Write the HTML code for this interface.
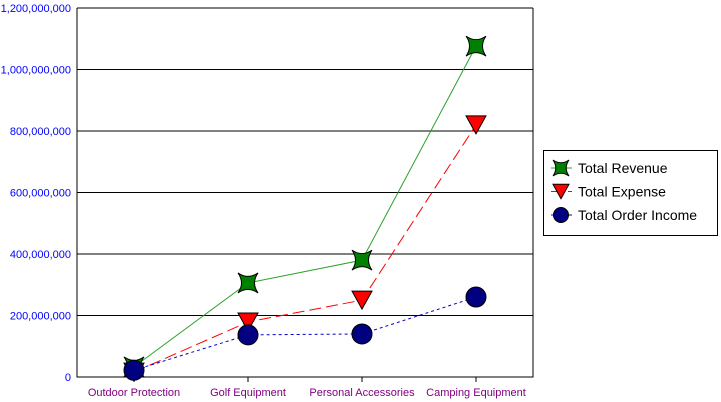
<!DOCTYPE html>
<html><head><meta charset="utf-8"><style>
body{margin:0;background:#fff;}
svg{display:block;font-family:"Liberation Sans",sans-serif;}
</style></head><body>
<svg id="chart" width="721" height="402"></svg>
<script>
const categories=["Outdoor Protection","Golf Equipment","Personal Accessories","Camping Equipment"];
const revenue=[33000000,306000000,380000000,1076000000];
const expense=[16000000,179000000,250000000,820000000];
const orderIncome=[22000000,137000000,140000000,260000000];
const yTicks=[0,200000000,400000000,600000000,800000000,1000000000,1200000000];
const yTickLabels=["0","200,000,000","400,000,000","600,000,000","800,000,000","1,000,000,000","1,200,000,000"];
const seriesNames=["Total Revenue","Total Expense","Total Order Income"];

const svg=document.getElementById('chart');
const NS='http://www.w3.org/2000/svg';
const L=77,R=533,T=8,B=377,yMax=1200000000;
const xs=i=>L+(R-L)*(i+0.5)/categories.length;
const ys=v=>B-(B-T)*v/yMax;
function mk(tag,attrs,parent){const e=document.createElementNS(NS,tag);for(const k in attrs)e.setAttribute(k,attrs[k]);(parent||svg).appendChild(e);return e;}

const grid=mk('g',{});


yTicks.forEach((t,i)=>{
  if(t>0){const l=mk('line',{x1:L,x2:R,y1:ys(t),y2:ys(t),stroke:'#000','stroke-width':1},grid);
  }
  const tx=mk('text',{x:71,y:ys(t)+4,'text-anchor':'end','font-size':11,fill:'#0000ff'});
  tx.textContent=yTickLabels[i];
  
});
const frame=mk('path',{d:`M${L} ${T}V${B}H${R}V${T}`,fill:'none',stroke:'#000','stroke-width':1});

categories.forEach((c,i)=>{
  const tk=mk('line',{x1:xs(i),x2:xs(i),y1:B,y2:B+5,stroke:'#000'});
  
  const tx=mk('text',{x:xs(i),y:396,'text-anchor':'middle','font-size':11,fill:'#800080'});
  tx.textContent=c;
  
});
function star(g,x,y,s){return mk('path',{d:`M${x-s} ${y-s}Q${x} ${y-s*0.3} ${x+s} ${y-s}Q${x+s*0.3} ${y} ${x+s} ${y+s}Q${x} ${y+s*0.3} ${x-s} ${y+s}Q${x-s*0.3} ${y} ${x-s} ${y-s}Z`,fill:'#008000',stroke:'#000','stroke-width':1},g);}
function tri(g,x,y,s){return mk('path',{d:`M${x-s} ${y-s*0.9}H${x+s}L${x} ${y+s*0.9}Z`,fill:'#ff0000',stroke:'#000','stroke-width':1},g);}
function circ(g,x,y,s){return mk('circle',{cx:x,cy:y,r:s,fill:'#000080',stroke:'#000','stroke-width':1},g);}
const series=[
 {vals:revenue,color:'#2ca02c',dash:'',m:star,name:'revenue'},
 {vals:expense,color:'#ff0000',dash:'12,5',m:tri,name:'expense'},
 {vals:orderIncome,color:'#0000cc',dash:'3,3',m:circ,name:'order-income'}];
series.forEach(s=>{
  const g=mk('g',{});
  
  const ln=mk('polyline',{points:s.vals.map((v,i)=>xs(i)+','+ys(v)).join(' '),fill:'none',stroke:s.color,'stroke-width':1,'stroke-dasharray':s.dash},g);
  
});
series.forEach(s=>{
  const g=mk('g',{});
  
  s.vals.forEach((v,i)=>{const p=s.m(g,xs(i),ys(v),s.m===circ?10:10);
    });
});
const lg=mk('g',{});

mk('rect',{x:543.5,y:150.5,width:174,height:85,fill:'#fff',stroke:'#000'},lg);
series.forEach((s,i)=>{
  const y=168+i*23.5;
  const e=mk('g',{},lg);
  
  mk('line',{x1:551,x2:572,y1:y,y2:y,stroke:s.color,'stroke-dasharray':s.dash},e);
  s.m(e,561,y,s.m===circ?7.5:8);
  const t=mk('text',{x:578,y:y+5,'font-size':14,fill:'#000'},e);
  t.textContent=seriesNames[i];
});
</script>
</body></html>
